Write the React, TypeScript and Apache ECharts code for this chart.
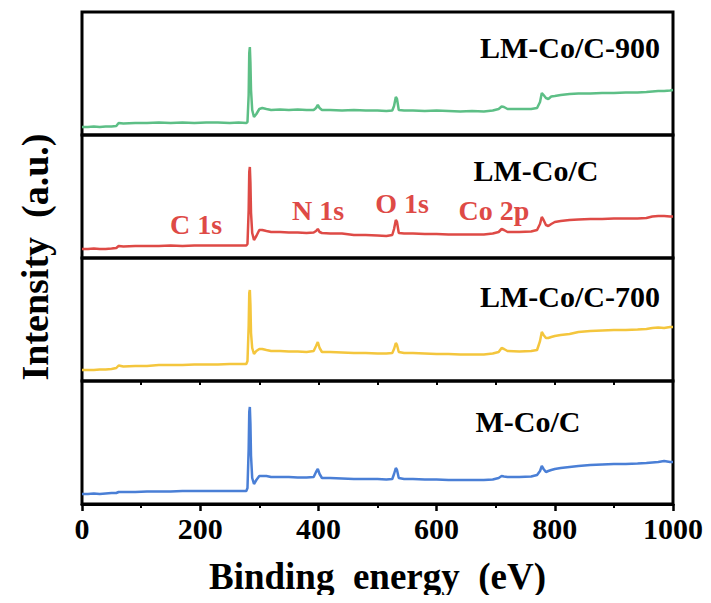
import React, { useEffect, useRef } from "react";
import * as echarts from "echarts";

const energy = [
  0, 10, 20, 30, 40, 50, 58, 62, 70, 90,
  110, 130, 150, 170, 190, 210, 230, 250, 265, 278,
  280, 282, 283, 284, 285, 286, 288, 291, 295, 300,
  305, 312, 320, 335, 350, 365, 380, 392, 396, 399,
  402, 406, 420, 440, 460, 480, 500, 515, 525, 528,
  531, 533, 536, 545, 560, 580, 600, 620, 640, 660,
  680, 695, 705, 710, 714, 720, 740, 760, 770, 775,
  778, 781, 785, 789, 794, 800, 810, 825, 840, 860,
  880, 900, 920, 940, 955, 965, 975, 985, 995, 1000,
];

const lmCoC900 = [
  8, 8, 8.5, 8, 8.5, 8.5, 9, 12, 11.5, 12,
  12, 12.5, 12, 12.5, 12, 12.5, 12.5, 12, 12.5, 12,
  13, 40, 82, 88, 72, 45, 25, 18, 21, 26,
  27, 26, 25, 25.5, 25, 25.5, 25, 25, 27, 30,
  27, 25, 25, 24.5, 25, 24.5, 24.5, 24, 24.5, 29,
  38, 36, 25, 24.5, 24.5, 24, 24.5, 24, 23.5, 24,
  23.5, 24.5, 26, 28.5, 28, 26, 26, 26, 27, 33,
  42, 40, 37, 36, 38.5, 39, 40, 41, 41.5, 41.5,
  42, 42, 42.5, 42.5, 43, 43.5, 44, 44, 44.5, 45,
];

const lmCoC = [
  9, 9, 9.5, 9, 9, 9.5, 10, 12, 11.5, 12,
  12, 12, 12.5, 12, 12.5, 12.5, 12.5, 12.5, 12.5, 12.5,
  14, 48, 86, 91, 75, 45, 25, 18, 22, 28,
  28, 27, 26, 26, 25.5, 25.5, 25, 25.5, 27, 29,
  26, 25, 24.5, 24.5, 23, 23, 22.5, 22, 23, 29,
  38, 36, 25, 24.5, 24.5, 24, 24, 23.5, 23.5, 23.5,
  23.5, 24.5, 26, 29, 28, 26, 26, 26.5, 28, 34,
  41, 38, 33, 32, 34, 36, 37, 38, 38.5, 39,
  39, 39.5, 39.5, 39.5, 40, 41.5, 42, 42, 41.5, 41.5,
];

const lmCoC700 = [
  11, 11, 11, 11.5, 11.5, 12, 13, 15.5, 14.5, 15,
  15, 16, 16, 16, 16.5, 16.5, 16.5, 17, 17, 17,
  20, 55, 88, 91, 76, 48, 33, 27, 30, 32,
  32, 31, 30, 30, 29.5, 29.5, 29, 30, 35, 39,
  33, 29, 29, 28.5, 28, 28, 27.5, 27.5, 28, 32,
  38, 36, 29, 28, 28, 27.5, 27, 27, 26.5, 26.5,
  26.5, 27.5, 29, 33, 32, 30, 29.5, 30, 31, 40,
  49, 46, 43, 43, 44, 45, 46, 47, 49, 50,
  50.5, 51, 51, 51.5, 52, 53, 53.5, 53, 54, 54,
];

const mCoC = [
  10, 10, 10.5, 10, 10.5, 11, 11, 12, 12, 12,
  12.5, 12.5, 12.5, 13, 13, 13, 13, 13, 13, 13,
  16, 55, 92, 97, 80, 48, 26, 20, 24, 28,
  28, 28, 27, 27, 27, 26.5, 26.5, 27, 32, 35,
  30, 26, 26, 25.5, 25, 25, 25, 24.5, 25, 30,
  36, 34, 26, 25, 25, 24.5, 24.5, 24, 24, 24,
  24, 24.5, 26, 28, 27.5, 27, 27, 27.5, 29, 33,
  38, 35, 32, 33, 34, 35, 36, 37, 38, 39,
  39.5, 40, 40, 40.5, 41, 41.5, 42, 43, 42, 42,
];

const panels = [
  { name: "LM-Co/C-900", values: lmCoC900, color: "#5dbf86" },
  { name: "LM-Co/C", values: lmCoC, color: "#de4a46" },
  { name: "LM-Co/C-700", values: lmCoC700, color: "#f4c63d" },
  { name: "M-Co/C", values: mCoC, color: "#4a7fd6" },
];

const peakLabels = ["C 1s", "N 1s", "O 1s", "Co 2p"];
const xTicks = [0, 200, 400, 600, 800, 1000];

const FONT = "'Liberation Serif', 'Times New Roman', serif";

export default function App() {
  const ref = useRef<HTMLDivElement>(null);

  useEffect(() => {
    if (!ref.current) return;
    const chart = echarts.init(ref.current, undefined, { renderer: "svg" });

    const tops = [12, 135, 258, 381];
    const h = 123;
    const grids = tops.map((t) => ({
      left: 82,
      right: 38,
      top: t,
      height: h,
      show: true,
      borderColor: "#000",
      borderWidth: 3,
      backgroundColor: "transparent",
    }));

    const xAxes: any[] = tops.map((_, i) => {
      if (i < 3) {
        return { type: "value", gridIndex: i, min: 0, max: 1000, show: false };
      }
      return {
        type: "value",
        gridIndex: i,
        min: xTicks[0],
        max: xTicks[xTicks.length - 1],
        interval: 200,
        name: "Binding  energy  (eV)",
        nameLocation: "middle",
        nameGap: 54,
        nameTextStyle: { fontFamily: FONT, fontWeight: "bold", fontSize: 37, color: "#000" },
        axisLine: { show: true, lineStyle: { color: "#000", width: 3 } },
        axisTick: { show: true, inside: false, length: 7, lineStyle: { color: "#000", width: 2.5 } },
        minorTick: { show: true, splitNumber: 2, length: 4, lineStyle: { color: "#000", width: 2 } },
        axisLabel: {
          fontFamily: FONT,
          fontWeight: "bold",
          fontSize: 30,
          color: "#000",
          margin: 9,
          formatter: (v: number) => String(v),
        },
        splitLine: { show: false },
      };
    });
    xAxes.push({
      type: "value",
      gridIndex: 3,
      min: 0,
      max: 1000,
      interval: 100,
      axisLine: { show: false },
      axisTick: { show: true, inside: true, length: 4, lineStyle: { color: "#000", width: 2 } },
      axisLabel: { show: false },
      splitLine: { show: false },
    });

    const yAxes = tops.map((_, i) => ({
      type: "value",
      gridIndex: i,
      min: 0,
      max: h,
      show: false,
    }));

    const series = panels.map((p, i) => ({
      type: "line",
      name: p.name,
      xAxisIndex: i,
      yAxisIndex: i,
      showSymbol: false,
      symbol: "none",
      data: energy.map((e, k) => [e, p.values[k]]),
      lineStyle: { color: p.color, width: 2.5 },
      itemStyle: { color: p.color },
    }));

    const nameStyle = { fontFamily: FONT, fontWeight: "bold", fontSize: 30, fill: "#000" };
    const redStyle = { fontFamily: FONT, fontWeight: "bold", fontSize: 28, fill: "#de4a46" };
    const namePos = [
      [570, 47],
      [536, 170],
      [570, 296],
      [528, 421],
    ];
    const peakPos = [
      [196, 224],
      [318, 210],
      [402, 203],
      [494, 210],
    ];

    const graphic: any[] = [
      ...panels.map((p, i) => ({
        type: "text",
        x: namePos[i][0],
        y: namePos[i][1],
        style: { ...nameStyle, text: p.name, align: "center", verticalAlign: "middle" },
      })),
      ...peakLabels.map((t, i) => ({
        type: "text",
        x: peakPos[i][0],
        y: peakPos[i][1],
        style: { ...redStyle, text: t, align: "center", verticalAlign: "middle" },
      })),
      {
        type: "text",
        x: 35,
        y: 257,
        rotation: Math.PI / 2,
        style: {
          fontFamily: FONT,
          fontWeight: "bold",
          fontSize: 38,
          fill: "#000",
          text: "Intensity  (a.u.)",
          align: "center",
          verticalAlign: "middle",
        },
      },
    ];

    chart.setOption({
      animation: false,
      backgroundColor: "#fff",
      grid: grids,
      xAxis: xAxes,
      yAxis: yAxes,
      series,
      graphic,
    });

    return () => chart.dispose();
  }, []);

  return <div ref={ref} style={{ width: 711, height: 603, margin: -8 }} />;
}
